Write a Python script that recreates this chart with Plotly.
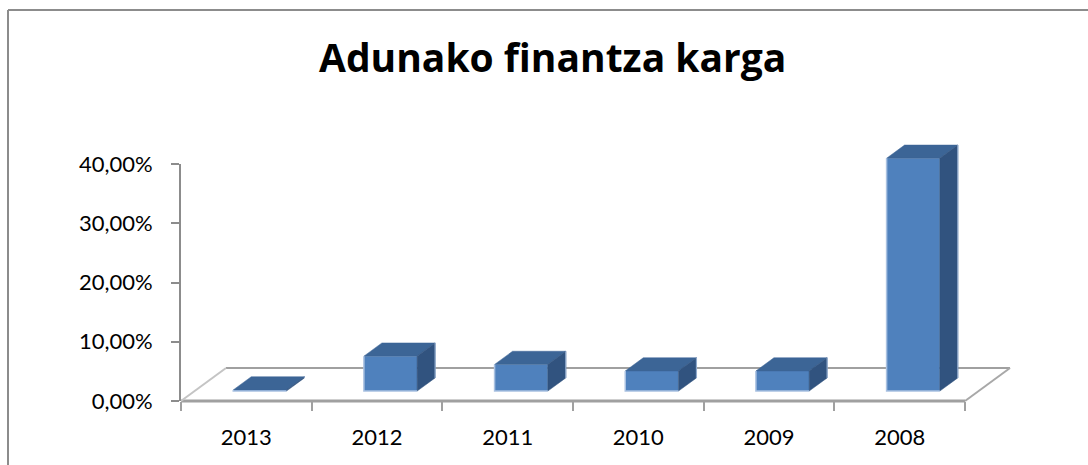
import plotly.graph_objects as go

# ---- data ----
categories = ["2013", "2012", "2011", "2010", "2009", "2008"]
values = [0.002, 0.059, 0.045, 0.034, 0.034, 0.393]
y_tickvals = [0, 0.1, 0.2, 0.3, 0.4]
y_ticktext = ["0,00%", "10,00%", "20,00%", "30,00%", "40,00%"]
title_text = "Adunako finantza karga"

# ---- geometry (pixel layout -> data scale) ----
W, H = 1088, 465
KX = 130.67   # px per category
KY = 592.5    # px per unit of value
DX = 45 / KX  # floor depth shift in x (category units)
DY = 33 / KY  # floor depth shift in y (value units)
Z0, Z1 = 0.30, 0.70   # bar depth extent
BW = 0.407            # bar width

FRONT = "#4F81BD"
TOP = "#3C6596"
SIDE = "#31537F"
EDGE = "#A9C1E1"
GRAY = "#8C8C8C"

def px_x(p):
    return p / W

def px_y(p):
    return (H - p) / H

n = len(categories)
xs = list(range(n))
xmax = -0.5 + 849 / KX

fig = go.Figure()

# front faces as bars
fig.add_trace(go.Bar(
    x=[i + Z0 * DX for i in xs], y=values, base=[Z0 * DY] * n,
    width=BW, marker=dict(color=FRONT, line=dict(width=0)),
    xaxis="x", yaxis="y", hoverinfo="skip", showlegend=False))

# top and side faces
for i, v in zip(xs, values):
    xl = i + Z0 * DX - BW / 2
    xr = xl + BW
    b = Z0 * DY
    h = b + v
    ddx = (Z1 - Z0) * DX
    ddy = (Z1 - Z0) * DY
    fig.add_trace(go.Scatter(
        x=[xl, xr, xr + ddx, xl + ddx, xl], y=[h, h, h + ddy, h + ddy, h],
        fill="toself", fillcolor=TOP, mode="lines", line=dict(width=0.5, color=TOP),
        xaxis="x", yaxis="y", hoverinfo="skip", showlegend=False))
    fig.add_trace(go.Scatter(
        x=[xr, xr + ddx, xr + ddx, xr, xr], y=[b, b + ddy, h + ddy, h, b],
        fill="toself", fillcolor=SIDE, mode="lines", line=dict(width=0.5, color=SIDE),
        xaxis="x", yaxis="y", hoverinfo="skip", showlegend=False))
    # light highlight edges (front-left, front-bottom, side-right)
    fig.add_trace(go.Scatter(
        x=[xl, xl, xr], y=[h, b, b], mode="lines", line=dict(width=1.5, color=EDGE),
        xaxis="x", yaxis="y", hoverinfo="skip", showlegend=False))
    fig.add_trace(go.Scatter(
        x=[xr + ddx, xr + ddx], y=[b + ddy, h + ddy], mode="lines",
        line=dict(width=1.2, color="#8FA9CC"),
        xaxis="x", yaxis="y", hoverinfo="skip", showlegend=False))

# invisible trace for the axis subplot
fig.add_trace(go.Scatter(x=[0], y=[0], mode="markers", marker=dict(opacity=0),
                         xaxis="x2", yaxis="y2", hoverinfo="skip", showlegend=False))

x0f, x1f = -0.5, n - 0.5
shapes = [
    dict(type="line", xref="x", yref="y", x0=x0f, y0=0, x1=x1f, y1=0,
         line=dict(color="#A0A0A0", width=3), layer="below"),
    dict(type="line", xref="x", yref="y", x0=x0f + DX, y0=DY, x1=x1f + DX, y1=DY,
         line=dict(color="#A0A0A0", width=2), layer="below"),
    dict(type="line", xref="x", yref="y", x0=x1f, y0=0, x1=x1f + DX, y1=DY,
         line=dict(color="#A8A8A8", width=2), layer="below"),
    dict(type="line", xref="x", yref="y", x0=x0f, y0=0, x1=x0f + DX, y1=DY,
         line=dict(color="#C4C4C4", width=2), layer="below"),
    dict(type="line", xref="paper", yref="paper", x0=px_x(8), y0=px_y(10), x1=1, y1=px_y(10),
         line=dict(color=GRAY, width=2)),
    dict(type="line", xref="paper", yref="paper", x0=px_x(8), y0=px_y(10), x1=px_x(8), y1=0,
         line=dict(color=GRAY, width=2)),
]

fig.update_layout(
    template="none",
    width=W, height=H, autosize=False,
    margin=dict(l=0, r=0, t=0, b=0, pad=0, autoexpand=False),
    paper_bgcolor="white", plot_bgcolor="rgba(0,0,0,0)",
    showlegend=False,
    font=dict(family="Lato, Open Sans, sans-serif", color="black"),
    shapes=shapes,
    xaxis=dict(domain=[px_x(171), px_x(1030)], range=[-0.5 - 10 / KX, xmax],
               visible=False, fixedrange=True, automargin=False),
    yaxis=dict(domain=[px_y(411), px_y(130)], range=[-10 / KY, 271 / KY],
               visible=False, fixedrange=True, automargin=False),
    xaxis2=dict(domain=[px_x(181), px_x(1030)], range=[-0.5, xmax], anchor="y2",
                showline=False, showgrid=False, zeroline=False, automargin=False,
                tickmode="array", tickvals=xs, ticktext=categories,
                ticks="", ticklen=0, ticklabelstandoff=21,
                tickfont=dict(size=22, family="Lato", color="black"),
                minor=dict(tickmode="array", tickvals=[k - 0.5 for k in range(n + 1)],
                           ticks="outside", ticklen=9, tickwidth=2, tickcolor="#A0A0A0",
                           showgrid=False),
                fixedrange=True),
    yaxis2=dict(domain=[px_y(401), px_y(164)], range=[0, 0.4], anchor="x2",
                showline=True, linecolor=GRAY, linewidth=2, automargin=False,
                showgrid=False, zeroline=False,
                tickmode="array", tickvals=y_tickvals, ticktext=y_ticktext,
                ticks="outside", ticklen=8, tickwidth=2, tickcolor=GRAY,
                ticklabelstandoff=14,
                tickfont=dict(size=22, family="Lato", color="black"),
                fixedrange=True),
    annotations=[dict(text="<b>" + title_text + "</b>", xref="paper", yref="paper",
                      x=px_x(552), y=px_y(56), xanchor="center", yanchor="middle",
                      showarrow=False, font=dict(size=39, family="Open Sans", color="black"))],
)

fig.write_html("out.html", config={"displayModeBar": False, "staticPlot": True},
               post_script="document.body.style.margin='0px';document.body.style.overflow='hidden';")
